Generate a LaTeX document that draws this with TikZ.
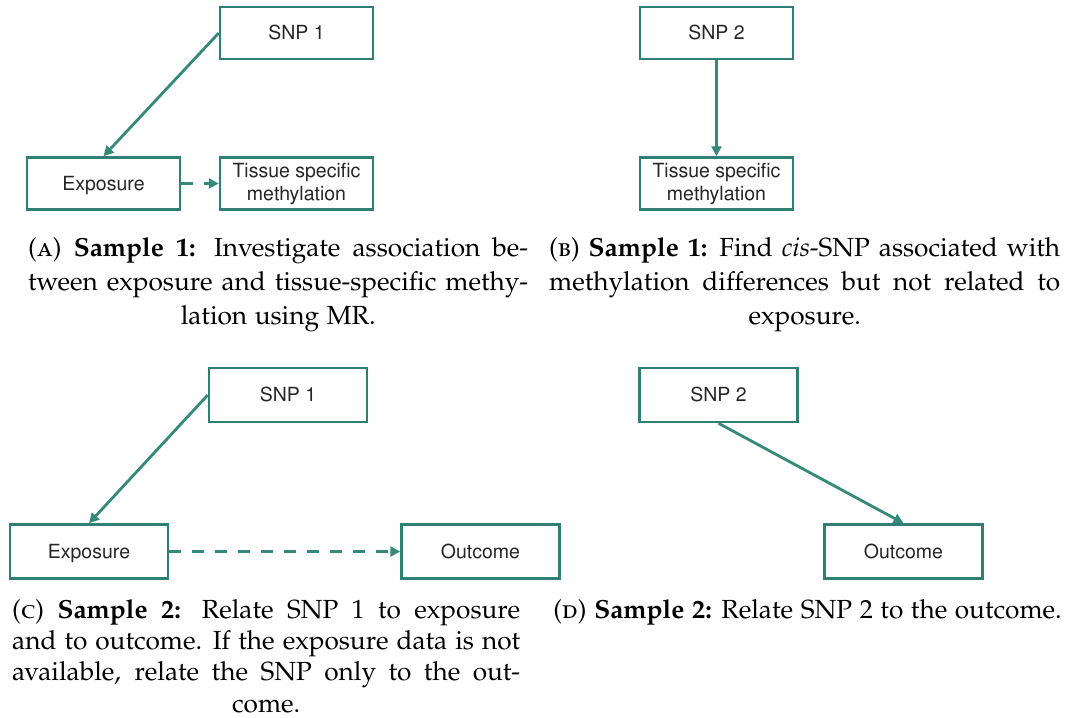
\documentclass[tikz,border=0pt]{standalone}
\usepackage[T1]{fontenc}
\usepackage[sc]{mathpazo}
\usepackage[scaled=1]{helvet}
\usetikzlibrary{arrows.meta}
\definecolor{boxteal}{HTML}{2F7F74}
\definecolor{arrteal}{HTML}{35897A}
\definecolor{boxtext}{HTML}{262626}
\tikzset{
  box/.style={draw=boxteal, line width=2.5pt, fill=white, inner sep=0pt,
    text=boxtext, align=center,
    font=\fontfamily{phv}\selectfont\fontsize{19.5}{23}\selectfont},
  boxA/.style={box, minimum width=153pt, minimum height=52pt},
  boxC/.style={box, minimum width=158pt, minimum height=54pt},
  oneline/.style={text height=13.9pt, text depth=0pt},
  link/.style={draw=arrteal, line width=2.8pt, -{Triangle[length=10pt,width=10pt]}},
  dlink/.style={link, dash pattern=on 12pt off 11pt},
  captext/.style={inner sep=0pt, align=center, anchor=north west,
    font=\fontsize{26.2}{34}\selectfont},
  captextC/.style={captext, font=\fontsize{26.2}{31.3}\selectfont}
}
\begin{document}
\begin{tikzpicture}[x=1pt,y=-1pt]
\useasboundingbox (0,0) rectangle (1072,718);
% Panel A
\node[boxA, oneline] (snpA) at (296.5,33) {SNP 1};
\node[boxA, oneline] (expA) at (103.5,183.5) {Exposure};
\node[boxA] (tisA) at (296.5,183.5) {Tissue specific\\methylation};
\draw[link] (snpA.west) -- (expA.north);
\draw[dlink] (expA.east) -- (tisA.west);
% Panel B
\node[boxA, oneline] (snpB) at (716.5,33) {SNP 2};
\node[boxA] (tisB) at (716.5,183.5) {Tissue specific\\methylation};
\draw[link] (snpB.south) -- (tisB.north);
% Panel C
\node[boxC, oneline] (snpC) at (288,395) {SNP 1};
\node[boxC, oneline] (expC) at (89,551.5) {Exposure};
\node[boxC, oneline] (outC) at (480.5,551.5) {Outcome};
\draw[link] (snpC.west) -- (expC.north);
\draw[dlink] (expC.east) -- (outC.west);
% Panel D
\node[boxC, oneline] (snpD) at (718.5,395) {SNP 2};
\node[boxC, oneline] (outD) at (903.5,551.5) {Outcome};
\draw[link] (snpD.south) -- (outD.north);
% Captions
\node[captext] (capA) at (28,237) {%
\hbox to 500pt{(\textsc{a}) \textbf{Sample 1:} Investigate association be-}\\
\hbox to 500pt{tween exposure and tissue-specific methy-}\\
lation using MR.};
\node[captext] (capB) at (549,237) {%
\hbox to 511pt{(\textsc{b}) \textbf{Sample 1:} Find \textit{cis}-SNP associated with}\\
\hbox to 511pt{methylation differences but not related to}\\
exposure.};
\node[captextC] (capC) at (12,599) {%
\hbox to 508pt{(\textsc{c}) \textbf{Sample 2:} Relate SNP 1 to exposure}\\
\hbox to 508pt{and to outcome. If the exposure data is not}\\
\hbox to 508pt{available, relate the SNP only to the out-}\\
come.};
\node[captextC, anchor=north] (capD) at (807.5,599) {%
(\textsc{d}) \textbf{Sample 2:} Relate SNP 2 to the outcome.};
\end{tikzpicture}
\end{document}
